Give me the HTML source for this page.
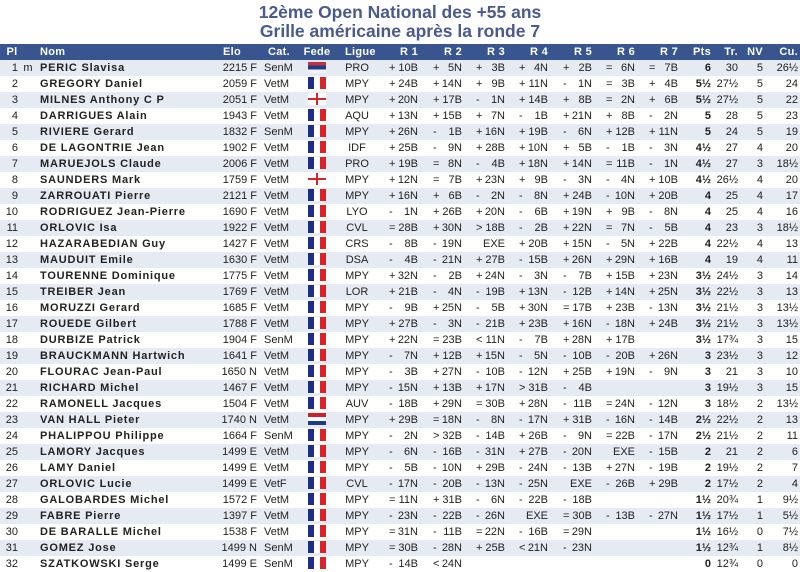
<!DOCTYPE html>
<html><head><meta charset="utf-8"><style>
*{margin:0;padding:0;box-sizing:border-box}
body{width:800px;height:572px;background:#fff;font-family:"Liberation Sans",Arial,sans-serif;overflow:hidden;position:relative}
h1{position:absolute;top:3px;left:0;width:800px;text-align:center;font-size:17.5px;line-height:19px;color:#4a5a8c;font-weight:bold}
table{position:absolute;top:44px;left:0;width:800px;border-collapse:collapse;table-layout:fixed;font-size:11px;color:#222}
td,th{height:16px;padding:0;white-space:nowrap;overflow:hidden;line-height:16px}
th{background:#385590;color:#fff;font-weight:bold;text-align:right;font-size:11px;letter-spacing:0.3px}
tbody tr:nth-child(odd){background:#e6eaf2}
.pl{text-align:right;padding-right:2px}
.m{text-align:center}
.n{font-weight:bold;text-align:left;padding-left:4px;letter-spacing:0.8px}
.e{text-align:right;padding-right:1px}
.c{text-align:left;padding-left:6px}
.f{text-align:center}
.l{text-align:center}
.r{text-align:right;padding-right:2px}
.r span{display:inline-block;width:29px;text-align:right}
.r span b{float:left;font-weight:normal}
.p{text-align:right;padding-right:2px;font-weight:bold}
.t{text-align:right;padding-right:2px}
.fl{display:inline-block;width:18px;height:12px;vertical-align:middle;margin-top:-2px}
.fr{background:linear-gradient(to right,#1f2c8a 0 6px,#fff 6px 12px,#d8232a 12px)}
.srb{height:11px;background:linear-gradient(#c8323c 0 33%,#1e3c8c 33% 66%,#f4f4f4 66%)}
.eng{background:linear-gradient(to right,transparent 0 8px,#d8232a 8px 10px,transparent 10px),linear-gradient(#fff 0 5px,#d8232a 5px 7px,#fff 7px)}
.ned{background:linear-gradient(#c8232a 0 33%,#fff 33% 66%,#1e3c8c 66%)}
</style></head><body>
<h1>12ème Open National des +55 ans<br>Grille américaine après la ronde 7</h1>
<table>
<colgroup><col style="width:20px"><col style="width:16px"><col style="width:179px"><col style="width:43px"><col style="width:42px"><col style="width:34px"><col style="width:46px"><col style="width:40px"><col style="width:44px"><col style="width:43px"><col style="width:43px"><col style="width:44px"><col style="width:43px"><col style="width:43px"><col style="width:33px"><col style="width:27px"><col style="width:25px"><col style="width:35px"></colgroup>
<thead><tr><th style="text-align:center;padding-left:4px">Pl</th><th></th><th style="text-align:left;padding-left:4px">Nom</th><th style="text-align:left;padding-left:8px">Elo</th><th style="text-align:left;padding-left:10px">Cat.</th><th style="text-align:center">Fede</th><th style="text-align:left;padding-left:11px">Ligue</th><th style="padding-right:2px">R 1</th><th style="padding-right:2px">R 2</th><th style="padding-right:2px">R 3</th><th style="padding-right:2px">R 4</th><th style="padding-right:2px">R 5</th><th style="padding-right:2px">R 6</th><th style="padding-right:2px">R 7</th><th style="padding-right:2px">Pts</th><th style="padding-right:2px">Tr.</th><th style="padding-right:2px">NV</th><th style="padding-right:2px">Cu.</th></tr></thead>
<tbody>
<tr><td class="pl">1</td><td class="m">m</td><td class="n">PERIC Slavisa</td><td class="e">2215 F</td><td class="c">SenM</td><td class="f"><i class="fl srb"></i></td><td class="l">PRO</td><td class="r"><span><b>+</b>10B</span></td><td class="r"><span><b>+</b>5N</span></td><td class="r"><span><b>+</b>3B</span></td><td class="r"><span><b>+</b>4N</span></td><td class="r"><span><b>+</b>2B</span></td><td class="r"><span><b>=</b>6N</span></td><td class="r"><span><b>=</b>7B</span></td><td class="p">6</td><td class="t">30</td><td class="t">5</td><td class="t">26½</td></tr>
<tr><td class="pl">2</td><td class="m"></td><td class="n">GREGORY Daniel</td><td class="e">2059 F</td><td class="c">VetM</td><td class="f"><i class="fl fr"></i></td><td class="l">MPY</td><td class="r"><span><b>+</b>24B</span></td><td class="r"><span><b>+</b>14N</span></td><td class="r"><span><b>+</b>9B</span></td><td class="r"><span><b>+</b>11N</span></td><td class="r"><span><b>-</b>1N</span></td><td class="r"><span><b>=</b>3B</span></td><td class="r"><span><b>+</b>4B</span></td><td class="p">5½</td><td class="t">27½</td><td class="t">5</td><td class="t">24</td></tr>
<tr><td class="pl">3</td><td class="m"></td><td class="n">MILNES Anthony C P</td><td class="e">2051 F</td><td class="c">VetM</td><td class="f"><i class="fl eng"></i></td><td class="l">MPY</td><td class="r"><span><b>+</b>20N</span></td><td class="r"><span><b>+</b>17B</span></td><td class="r"><span><b>-</b>1N</span></td><td class="r"><span><b>+</b>14B</span></td><td class="r"><span><b>+</b>8B</span></td><td class="r"><span><b>=</b>2N</span></td><td class="r"><span><b>+</b>6B</span></td><td class="p">5½</td><td class="t">27½</td><td class="t">5</td><td class="t">22</td></tr>
<tr><td class="pl">4</td><td class="m"></td><td class="n">DARRIGUES Alain</td><td class="e">1943 F</td><td class="c">VetM</td><td class="f"><i class="fl fr"></i></td><td class="l">AQU</td><td class="r"><span><b>+</b>13N</span></td><td class="r"><span><b>+</b>15B</span></td><td class="r"><span><b>+</b>7N</span></td><td class="r"><span><b>-</b>1B</span></td><td class="r"><span><b>+</b>21N</span></td><td class="r"><span><b>+</b>8B</span></td><td class="r"><span><b>-</b>2N</span></td><td class="p">5</td><td class="t">28</td><td class="t">5</td><td class="t">23</td></tr>
<tr><td class="pl">5</td><td class="m"></td><td class="n">RIVIERE Gerard</td><td class="e">1832 F</td><td class="c">SenM</td><td class="f"><i class="fl fr"></i></td><td class="l">MPY</td><td class="r"><span><b>+</b>26N</span></td><td class="r"><span><b>-</b>1B</span></td><td class="r"><span><b>+</b>16N</span></td><td class="r"><span><b>+</b>19B</span></td><td class="r"><span><b>-</b>6N</span></td><td class="r"><span><b>+</b>12B</span></td><td class="r"><span><b>+</b>11N</span></td><td class="p">5</td><td class="t">24</td><td class="t">5</td><td class="t">19</td></tr>
<tr><td class="pl">6</td><td class="m"></td><td class="n">DE LAGONTRIE Jean</td><td class="e">1902 F</td><td class="c">VetM</td><td class="f"><i class="fl fr"></i></td><td class="l">IDF</td><td class="r"><span><b>+</b>25B</span></td><td class="r"><span><b>-</b>9N</span></td><td class="r"><span><b>+</b>28B</span></td><td class="r"><span><b>+</b>10N</span></td><td class="r"><span><b>+</b>5B</span></td><td class="r"><span><b>-</b>1B</span></td><td class="r"><span><b>-</b>3N</span></td><td class="p">4½</td><td class="t">27</td><td class="t">4</td><td class="t">20</td></tr>
<tr><td class="pl">7</td><td class="m"></td><td class="n">MARUEJOLS Claude</td><td class="e">2006 F</td><td class="c">VetM</td><td class="f"><i class="fl fr"></i></td><td class="l">PRO</td><td class="r"><span><b>+</b>19B</span></td><td class="r"><span><b>=</b>8N</span></td><td class="r"><span><b>-</b>4B</span></td><td class="r"><span><b>+</b>18N</span></td><td class="r"><span><b>+</b>14N</span></td><td class="r"><span><b>=</b>11B</span></td><td class="r"><span><b>-</b>1N</span></td><td class="p">4½</td><td class="t">27</td><td class="t">3</td><td class="t">18½</td></tr>
<tr><td class="pl">8</td><td class="m"></td><td class="n">SAUNDERS Mark</td><td class="e">1759 F</td><td class="c">VetM</td><td class="f"><i class="fl eng"></i></td><td class="l">MPY</td><td class="r"><span><b>+</b>12N</span></td><td class="r"><span><b>=</b>7B</span></td><td class="r"><span><b>+</b>23N</span></td><td class="r"><span><b>+</b>9B</span></td><td class="r"><span><b>-</b>3N</span></td><td class="r"><span><b>-</b>4N</span></td><td class="r"><span><b>+</b>10B</span></td><td class="p">4½</td><td class="t">26½</td><td class="t">4</td><td class="t">20</td></tr>
<tr><td class="pl">9</td><td class="m"></td><td class="n">ZARROUATI Pierre</td><td class="e">2121 F</td><td class="c">VetM</td><td class="f"><i class="fl fr"></i></td><td class="l">MPY</td><td class="r"><span><b>+</b>16N</span></td><td class="r"><span><b>+</b>6B</span></td><td class="r"><span><b>-</b>2N</span></td><td class="r"><span><b>-</b>8N</span></td><td class="r"><span><b>+</b>24B</span></td><td class="r"><span><b>-</b>10N</span></td><td class="r"><span><b>+</b>20B</span></td><td class="p">4</td><td class="t">25</td><td class="t">4</td><td class="t">17</td></tr>
<tr><td class="pl">10</td><td class="m"></td><td class="n">RODRIGUEZ Jean-Pierre</td><td class="e">1690 F</td><td class="c">VetM</td><td class="f"><i class="fl fr"></i></td><td class="l">LYO</td><td class="r"><span><b>-</b>1N</span></td><td class="r"><span><b>+</b>26B</span></td><td class="r"><span><b>+</b>20N</span></td><td class="r"><span><b>-</b>6B</span></td><td class="r"><span><b>+</b>19N</span></td><td class="r"><span><b>+</b>9B</span></td><td class="r"><span><b>-</b>8N</span></td><td class="p">4</td><td class="t">25</td><td class="t">4</td><td class="t">16</td></tr>
<tr><td class="pl">11</td><td class="m"></td><td class="n">ORLOVIC Isa</td><td class="e">1922 F</td><td class="c">VetM</td><td class="f"><i class="fl fr"></i></td><td class="l">CVL</td><td class="r"><span><b>=</b>28B</span></td><td class="r"><span><b>+</b>30N</span></td><td class="r"><span><b>&gt;</b>18B</span></td><td class="r"><span><b>-</b>2B</span></td><td class="r"><span><b>+</b>22N</span></td><td class="r"><span><b>=</b>7N</span></td><td class="r"><span><b>-</b>5B</span></td><td class="p">4</td><td class="t">23</td><td class="t">3</td><td class="t">18½</td></tr>
<tr><td class="pl">12</td><td class="m"></td><td class="n">HAZARABEDIAN Guy</td><td class="e">1427 F</td><td class="c">VetM</td><td class="f"><i class="fl fr"></i></td><td class="l">CRS</td><td class="r"><span><b>-</b>8B</span></td><td class="r"><span><b>-</b>19N</span></td><td class="r"><span>EXE</span></td><td class="r"><span><b>+</b>20B</span></td><td class="r"><span><b>+</b>15N</span></td><td class="r"><span><b>-</b>5N</span></td><td class="r"><span><b>+</b>22B</span></td><td class="p">4</td><td class="t">22½</td><td class="t">4</td><td class="t">13</td></tr>
<tr><td class="pl">13</td><td class="m"></td><td class="n">MAUDUIT Emile</td><td class="e">1630 F</td><td class="c">VetM</td><td class="f"><i class="fl fr"></i></td><td class="l">DSA</td><td class="r"><span><b>-</b>4B</span></td><td class="r"><span><b>-</b>21N</span></td><td class="r"><span><b>+</b>27B</span></td><td class="r"><span><b>-</b>15B</span></td><td class="r"><span><b>+</b>26N</span></td><td class="r"><span><b>+</b>29N</span></td><td class="r"><span><b>+</b>16B</span></td><td class="p">4</td><td class="t">19</td><td class="t">4</td><td class="t">11</td></tr>
<tr><td class="pl">14</td><td class="m"></td><td class="n">TOURENNE Dominique</td><td class="e">1775 F</td><td class="c">VetM</td><td class="f"><i class="fl fr"></i></td><td class="l">MPY</td><td class="r"><span><b>+</b>32N</span></td><td class="r"><span><b>-</b>2B</span></td><td class="r"><span><b>+</b>24N</span></td><td class="r"><span><b>-</b>3N</span></td><td class="r"><span><b>-</b>7B</span></td><td class="r"><span><b>+</b>15B</span></td><td class="r"><span><b>+</b>23N</span></td><td class="p">3½</td><td class="t">24½</td><td class="t">3</td><td class="t">14</td></tr>
<tr><td class="pl">15</td><td class="m"></td><td class="n">TREIBER Jean</td><td class="e">1769 F</td><td class="c">VetM</td><td class="f"><i class="fl fr"></i></td><td class="l">LOR</td><td class="r"><span><b>+</b>21B</span></td><td class="r"><span><b>-</b>4N</span></td><td class="r"><span><b>-</b>19B</span></td><td class="r"><span><b>+</b>13N</span></td><td class="r"><span><b>-</b>12B</span></td><td class="r"><span><b>+</b>14N</span></td><td class="r"><span><b>+</b>25N</span></td><td class="p">3½</td><td class="t">22½</td><td class="t">3</td><td class="t">13</td></tr>
<tr><td class="pl">16</td><td class="m"></td><td class="n">MORUZZI Gerard</td><td class="e">1685 F</td><td class="c">VetM</td><td class="f"><i class="fl fr"></i></td><td class="l">MPY</td><td class="r"><span><b>-</b>9B</span></td><td class="r"><span><b>+</b>25N</span></td><td class="r"><span><b>-</b>5B</span></td><td class="r"><span><b>+</b>30N</span></td><td class="r"><span><b>=</b>17B</span></td><td class="r"><span><b>+</b>23B</span></td><td class="r"><span><b>-</b>13N</span></td><td class="p">3½</td><td class="t">21½</td><td class="t">3</td><td class="t">13½</td></tr>
<tr><td class="pl">17</td><td class="m"></td><td class="n">ROUEDE Gilbert</td><td class="e">1788 F</td><td class="c">VetM</td><td class="f"><i class="fl fr"></i></td><td class="l">MPY</td><td class="r"><span><b>+</b>27B</span></td><td class="r"><span><b>-</b>3N</span></td><td class="r"><span><b>-</b>21B</span></td><td class="r"><span><b>+</b>23B</span></td><td class="r"><span><b>+</b>16N</span></td><td class="r"><span><b>-</b>18N</span></td><td class="r"><span><b>+</b>24B</span></td><td class="p">3½</td><td class="t">21½</td><td class="t">3</td><td class="t">13½</td></tr>
<tr><td class="pl">18</td><td class="m"></td><td class="n">DURBIZE Patrick</td><td class="e">1904 F</td><td class="c">SenM</td><td class="f"><i class="fl fr"></i></td><td class="l">MPY</td><td class="r"><span><b>+</b>22N</span></td><td class="r"><span><b>=</b>23B</span></td><td class="r"><span><b>&lt;</b>11N</span></td><td class="r"><span><b>-</b>7B</span></td><td class="r"><span><b>+</b>28N</span></td><td class="r"><span><b>+</b>17B</span></td><td class="r"></td><td class="p">3½</td><td class="t">17¾</td><td class="t">3</td><td class="t">15</td></tr>
<tr><td class="pl">19</td><td class="m"></td><td class="n">BRAUCKMANN Hartwich</td><td class="e">1641 F</td><td class="c">VetM</td><td class="f"><i class="fl fr"></i></td><td class="l">MPY</td><td class="r"><span><b>-</b>7N</span></td><td class="r"><span><b>+</b>12B</span></td><td class="r"><span><b>+</b>15N</span></td><td class="r"><span><b>-</b>5N</span></td><td class="r"><span><b>-</b>10B</span></td><td class="r"><span><b>-</b>20B</span></td><td class="r"><span><b>+</b>26N</span></td><td class="p">3</td><td class="t">23½</td><td class="t">3</td><td class="t">12</td></tr>
<tr><td class="pl">20</td><td class="m"></td><td class="n">FLOURAC Jean-Paul</td><td class="e">1650 N</td><td class="c">VetM</td><td class="f"><i class="fl fr"></i></td><td class="l">MPY</td><td class="r"><span><b>-</b>3B</span></td><td class="r"><span><b>+</b>27N</span></td><td class="r"><span><b>-</b>10B</span></td><td class="r"><span><b>-</b>12N</span></td><td class="r"><span><b>+</b>25B</span></td><td class="r"><span><b>+</b>19N</span></td><td class="r"><span><b>-</b>9N</span></td><td class="p">3</td><td class="t">21</td><td class="t">3</td><td class="t">10</td></tr>
<tr><td class="pl">21</td><td class="m"></td><td class="n">RICHARD Michel</td><td class="e">1467 F</td><td class="c">VetM</td><td class="f"><i class="fl fr"></i></td><td class="l">MPY</td><td class="r"><span><b>-</b>15N</span></td><td class="r"><span><b>+</b>13B</span></td><td class="r"><span><b>+</b>17N</span></td><td class="r"><span><b>&gt;</b>31B</span></td><td class="r"><span><b>-</b>4B</span></td><td class="r"></td><td class="r"></td><td class="p">3</td><td class="t">19½</td><td class="t">3</td><td class="t">15</td></tr>
<tr><td class="pl">22</td><td class="m"></td><td class="n">RAMONELL Jacques</td><td class="e">1504 F</td><td class="c">VetM</td><td class="f"><i class="fl fr"></i></td><td class="l">AUV</td><td class="r"><span><b>-</b>18B</span></td><td class="r"><span><b>+</b>29N</span></td><td class="r"><span><b>=</b>30B</span></td><td class="r"><span><b>+</b>28N</span></td><td class="r"><span><b>-</b>11B</span></td><td class="r"><span><b>=</b>24N</span></td><td class="r"><span><b>-</b>12N</span></td><td class="p">3</td><td class="t">18½</td><td class="t">2</td><td class="t">13½</td></tr>
<tr><td class="pl">23</td><td class="m"></td><td class="n">VAN HALL Pieter</td><td class="e">1740 N</td><td class="c">VetM</td><td class="f"><i class="fl ned"></i></td><td class="l">MPY</td><td class="r"><span><b>+</b>29B</span></td><td class="r"><span><b>=</b>18N</span></td><td class="r"><span><b>-</b>8N</span></td><td class="r"><span><b>-</b>17N</span></td><td class="r"><span><b>+</b>31B</span></td><td class="r"><span><b>-</b>16N</span></td><td class="r"><span><b>-</b>14B</span></td><td class="p">2½</td><td class="t">22½</td><td class="t">2</td><td class="t">13</td></tr>
<tr><td class="pl">24</td><td class="m"></td><td class="n">PHALIPPOU Philippe</td><td class="e">1664 F</td><td class="c">SenM</td><td class="f"><i class="fl fr"></i></td><td class="l">MPY</td><td class="r"><span><b>-</b>2N</span></td><td class="r"><span><b>&gt;</b>32B</span></td><td class="r"><span><b>-</b>14B</span></td><td class="r"><span><b>+</b>26B</span></td><td class="r"><span><b>-</b>9N</span></td><td class="r"><span><b>=</b>22B</span></td><td class="r"><span><b>-</b>17N</span></td><td class="p">2½</td><td class="t">21½</td><td class="t">2</td><td class="t">11</td></tr>
<tr><td class="pl">25</td><td class="m"></td><td class="n">LAMORY Jacques</td><td class="e">1499 E</td><td class="c">VetM</td><td class="f"><i class="fl fr"></i></td><td class="l">MPY</td><td class="r"><span><b>-</b>6N</span></td><td class="r"><span><b>-</b>16B</span></td><td class="r"><span><b>-</b>31N</span></td><td class="r"><span><b>+</b>27B</span></td><td class="r"><span><b>-</b>20N</span></td><td class="r"><span>EXE</span></td><td class="r"><span><b>-</b>15B</span></td><td class="p">2</td><td class="t">21</td><td class="t">2</td><td class="t">6</td></tr>
<tr><td class="pl">26</td><td class="m"></td><td class="n">LAMY Daniel</td><td class="e">1499 E</td><td class="c">VetM</td><td class="f"><i class="fl fr"></i></td><td class="l">MPY</td><td class="r"><span><b>-</b>5B</span></td><td class="r"><span><b>-</b>10N</span></td><td class="r"><span><b>+</b>29B</span></td><td class="r"><span><b>-</b>24N</span></td><td class="r"><span><b>-</b>13B</span></td><td class="r"><span><b>+</b>27N</span></td><td class="r"><span><b>-</b>19B</span></td><td class="p">2</td><td class="t">19½</td><td class="t">2</td><td class="t">7</td></tr>
<tr><td class="pl">27</td><td class="m"></td><td class="n">ORLOVIC Lucie</td><td class="e">1499 E</td><td class="c">VetF</td><td class="f"><i class="fl fr"></i></td><td class="l">CVL</td><td class="r"><span><b>-</b>17N</span></td><td class="r"><span><b>-</b>20B</span></td><td class="r"><span><b>-</b>13N</span></td><td class="r"><span><b>-</b>25N</span></td><td class="r"><span>EXE</span></td><td class="r"><span><b>-</b>26B</span></td><td class="r"><span><b>+</b>29B</span></td><td class="p">2</td><td class="t">17½</td><td class="t">2</td><td class="t">4</td></tr>
<tr><td class="pl">28</td><td class="m"></td><td class="n">GALOBARDES Michel</td><td class="e">1572 F</td><td class="c">VetM</td><td class="f"><i class="fl fr"></i></td><td class="l">MPY</td><td class="r"><span><b>=</b>11N</span></td><td class="r"><span><b>+</b>31B</span></td><td class="r"><span><b>-</b>6N</span></td><td class="r"><span><b>-</b>22B</span></td><td class="r"><span><b>-</b>18B</span></td><td class="r"></td><td class="r"></td><td class="p">1½</td><td class="t">20¾</td><td class="t">1</td><td class="t">9½</td></tr>
<tr><td class="pl">29</td><td class="m"></td><td class="n">FABRE Pierre</td><td class="e">1397 F</td><td class="c">VetM</td><td class="f"><i class="fl fr"></i></td><td class="l">MPY</td><td class="r"><span><b>-</b>23N</span></td><td class="r"><span><b>-</b>22B</span></td><td class="r"><span><b>-</b>26N</span></td><td class="r"><span>EXE</span></td><td class="r"><span><b>=</b>30B</span></td><td class="r"><span><b>-</b>13B</span></td><td class="r"><span><b>-</b>27N</span></td><td class="p">1½</td><td class="t">17½</td><td class="t">1</td><td class="t">5½</td></tr>
<tr><td class="pl">30</td><td class="m"></td><td class="n">DE BARALLE Michel</td><td class="e">1538 F</td><td class="c">VetM</td><td class="f"><i class="fl fr"></i></td><td class="l">MPY</td><td class="r"><span><b>=</b>31N</span></td><td class="r"><span><b>-</b>11B</span></td><td class="r"><span><b>=</b>22N</span></td><td class="r"><span><b>-</b>16B</span></td><td class="r"><span><b>=</b>29N</span></td><td class="r"></td><td class="r"></td><td class="p">1½</td><td class="t">16½</td><td class="t">0</td><td class="t">7½</td></tr>
<tr><td class="pl">31</td><td class="m"></td><td class="n">GOMEZ Jose</td><td class="e">1499 N</td><td class="c">SenM</td><td class="f"><i class="fl fr"></i></td><td class="l">MPY</td><td class="r"><span><b>=</b>30B</span></td><td class="r"><span><b>-</b>28N</span></td><td class="r"><span><b>+</b>25B</span></td><td class="r"><span><b>&lt;</b>21N</span></td><td class="r"><span><b>-</b>23N</span></td><td class="r"></td><td class="r"></td><td class="p">1½</td><td class="t">12¾</td><td class="t">1</td><td class="t">8½</td></tr>
<tr><td class="pl">32</td><td class="m"></td><td class="n">SZATKOWSKI Serge</td><td class="e">1499 E</td><td class="c">SenM</td><td class="f"><i class="fl fr"></i></td><td class="l">MPY</td><td class="r"><span><b>-</b>14B</span></td><td class="r"><span><b>&lt;</b>24N</span></td><td class="r"></td><td class="r"></td><td class="r"></td><td class="r"></td><td class="r"></td><td class="p">0</td><td class="t">12¾</td><td class="t">0</td><td class="t">0</td></tr>
</tbody></table>
</body></html>
